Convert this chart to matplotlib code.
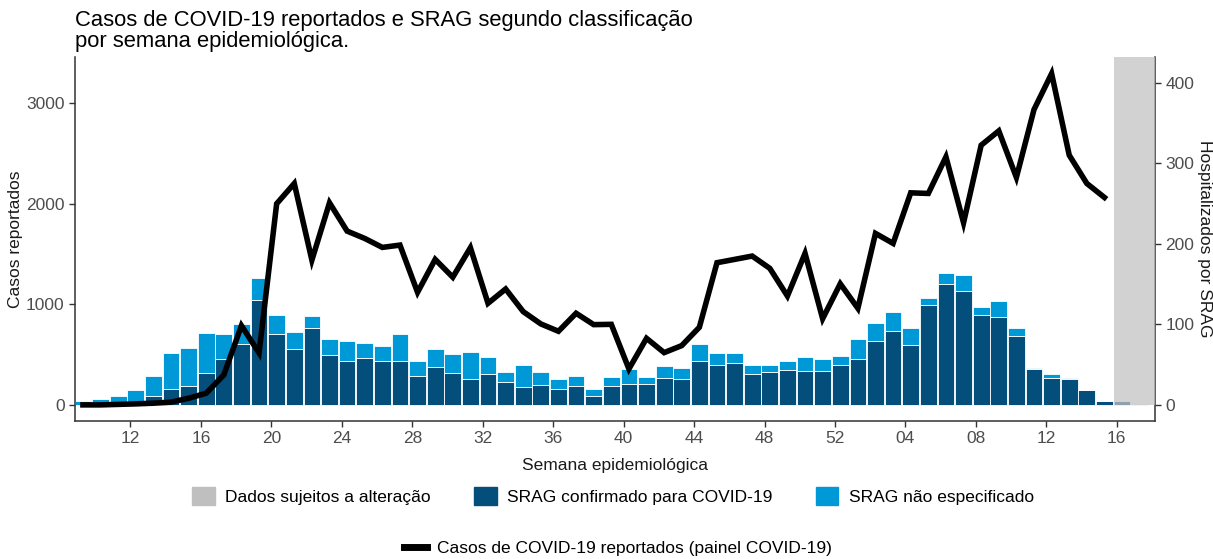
import matplotlib.pyplot as plt
from matplotlib.patches import Patch
from matplotlib.lines import Line2D
import numpy as np

plt.rcParams['font.family'] = ['Liberation Sans', 'DejaVu Sans']

# semanas epidemiologicas: 09/2020 ate 17/2021
semanas = [f"{s:02d}" for s in range(9, 53)] + [f"{s:02d}" for s in range(1, 18)]

# hospitalizados por SRAG (eixo direito)
confirmado = [0, 0, 0, 0, 11, 20, 24, 39, 57, 76,
              130, 88, 70, 96, 62, 55, 58, 55, 54, 36,
              47, 39, 32, 38, 29, 22, 25, 20, 23, 11,
              23, 26, 26, 33, 32, 54, 50, 52, 38, 41,
              43, 42, 42, 49, 57, 79, 92, 74, 124, 150,
              142, 111, 109, 85, 45, 34, 32, 19, 4.5, 4.5,
              0]
nao_especificado = [5, 7, 11, 19, 25, 44, 47, 50, 31, 24,
                    28, 24, 20, 14, 20, 24, 19, 18, 34, 19,
                    22, 24, 34, 21, 12, 27, 16, 12, 13, 9,
                    12, 18, 9, 15, 14, 22, 14, 13, 12, 9,
                    11, 18, 15, 12, 25, 23, 23, 21, 9, 14,
                    19, 10, 20, 10, 1, 4, 1, 0, 0, 0,
                    1]

# casos reportados (painel COVID-19, eixo esquerdo)
casos = [0, 0, 5, 10, 17, 27, 66, 116, 298, 787,
         516, 1998, 2199, 1438, 2007, 1726, 1653, 1564, 1587, 1118,
         1445, 1268, 1561, 1009, 1151, 926, 804, 731, 910, 797,
         800, 357, 661, 519, 589, 771, 1412, 1445, 1478, 1356,
         1081, 1505, 856, 1203, 959, 1703, 1604, 2106, 2100, 2463,
         1809, 2579, 2721, 2259, 2933, 3290, 2480, 2199, 2060]

inicio_pendente = 59  # semanas com dados sujeitos a alteracao

azul_escuro = '#034e7b'
azul_claro = '#0099d8'
cinza_txt = '#4d4d4d'

fig = plt.figure(figsize=(12.13, 5.59), dpi=100)
ax = fig.add_axes([75 / 1213, 1 - 421 / 559, 1080 / 1213, 364 / 559])
ax2 = ax.twinx()
ax.set_zorder(ax2.get_zorder() + 1)
ax.patch.set_visible(False)

x = np.arange(len(semanas))
xmax = 60.87

# barras empilhadas
ax2.bar(x, confirmado, width=0.95, color=azul_escuro, edgecolor='white', linewidth=0.6)
ax2.bar(x, nao_especificado, bottom=confirmado, width=0.95, color=azul_claro,
        edgecolor='white', linewidth=0.6)
ax2.fill_between([inicio_pendente - 0.45, xmax], 0, 440, color='#c2c2c2', alpha=0.73,
                 linewidth=0, zorder=3)

# linha de casos
ax.plot(x[:len(casos)], casos, color='black', linewidth=4, solid_joinstyle='miter')

ax.set_xlim(-0.45, xmax)
ax.set_ylim(-160, 3455)
ax2.set_ylim(-20, 3455 / 8)

ax.set_yticks([0, 1000, 2000, 3000])
ax2.set_yticks([0, 100, 200, 300, 400])
pos = x[3::4]
ax.set_xticks(pos - 0.3)
ax.set_xticklabels([semanas[i] for i in pos])

for a in (ax, ax2):
    a.spines['top'].set_visible(False)
    for s in a.spines.values():
        s.set_color('#333333')
        s.set_linewidth(1.1)
    a.tick_params(colors='#333333', labelcolor=cinza_txt, labelsize=12.5, length=4, width=1)
ax.spines['right'].set_visible(False)
ax2.spines['left'].set_visible(False)
ax2.spines['bottom'].set_visible(False)

ax.set_ylabel('Casos reportados', fontsize=12.5, color='#1a1a1a')
ax.yaxis.set_label_coords(-0.048, 0.5)
ax2.set_ylabel('Hospitalizados por SRAG', fontsize=12.5, color='#1a1a1a', rotation=270,
               va='center')
ax2.yaxis.set_label_coords(1.046, 0.5)
ax.set_xlabel('Semana epidemiológica', fontsize=12.5, color='#1a1a1a')
ax.xaxis.set_label_coords(0.5, -0.102)

fig.text(75 / 1213, 1 - 10 / 559,
         'Casos de COVID-19 reportados e SRAG segundo classificação\npor semana epidemiológica.',
         fontsize=15.8, va='top', ha='left', linespacing=1.0)

handles = [Patch(color='#bfbfbf'), Patch(color=azul_escuro), Patch(color=azul_claro)]
labels = ['Dados sujeitos a alteração', 'SRAG confirmado para COVID-19', 'SRAG não especificado']
leg1 = fig.legend(handles, labels, loc='center', bbox_to_anchor=(613 / 1213, 1 - 496 / 559),
                  ncol=3, frameon=False, fontsize=12.5, handlelength=1.3, handleheight=1.3,
                  handletextpad=0.6, columnspacing=2.5)
leg2 = fig.legend([Line2D([0], [0], color='black', linewidth=5)],
                  ['Casos de COVID-19 reportados (painel COVID-19)'],
                  loc='center', bbox_to_anchor=(618 / 1213, 1 - 548 / 559),
                  frameon=False, fontsize=12.5, handlelength=1.3, handletextpad=0.6)

fig.savefig('out.png', dpi=100)
